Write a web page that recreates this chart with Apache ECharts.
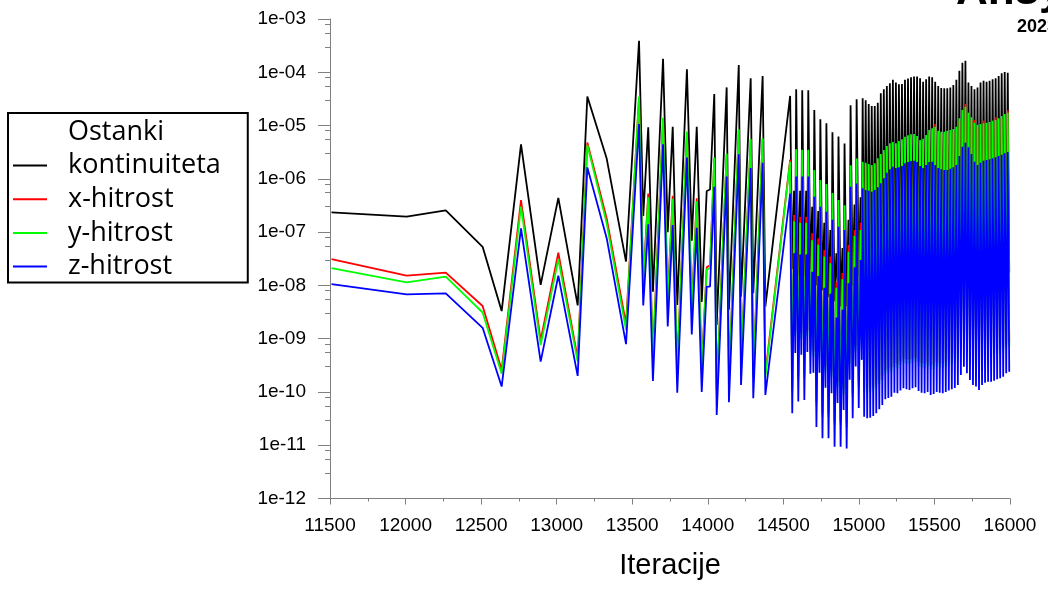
<!DOCTYPE html>
<html>
<head>
<meta charset="utf-8">
<script src="https://cdn.jsdelivr.net/npm/echarts@6/dist/echarts.min.js"></script>
<style>
html,body{margin:0;padding:0;background:#ffffff;}
#chart{width:1048px;height:590px;}
</style>
</head>
<body>
<div id="chart"></div>
<script>
// ---------- names, colours, axis labels ----------
const seriesNames = ['Ostanki kontinuiteta', 'x-hitrost', 'y-hitrost', 'z-hitrost'];
const seriesColors = ['#000000', '#ff0000', '#00ff00', '#0000ff'];
const legendLabels = ['kontinuiteta', 'x-hitrost', 'y-hitrost', 'z-hitrost'];
const legendTitle = 'Ostanki';
const xAxisTitle = 'Iteracije';
const xMin = 11500, xMax = 16000, xStep = 500;
const yMin = 1e-12, yMax = 1e-3;
const yMinorMantissas = [8, 5.5, 3];

// ---------- data: sparse part (11500 - 14400) ----------
const sparseIter = [11510, 12007, 12266, 12510, 12636, 12764, 12894, 13011, 13139, 13203, 13331, 13459,
  13545, 13573, 13606, 13637, 13704, 13735, 13768, 13798, 13862, 13894, 13927, 13960,
  13993, 14015, 14043, 14059, 14125, 14140, 14205, 14220, 14284, 14301, 14363, 14381];
const sparseK = [2.35e-7, 1.95e-7, 2.56e-7, 5.3e-8, 3.3e-9, 4.45e-6, 1.02e-8, 4.4e-7, 4.2e-9, 3.5e-5, 2.4e-6, 2.8e-8,
  3.9e-4, 2.0e-7, 9.3e-6, 7.6e-9, 1.8e-4, 1.0e-7, 9.5e-6, 4.3e-9, 1.14e-4, 6.9e-8, 9.5e-6, 4.9e-9,
  5.9e-7, 6.3e-7, 3.9e-5, 1.8e-9, 5.2e-5, 3.5e-9, 1.37e-4, 6.1e-9, 7.7e-5, 7.1e-9, 8.5e-5, 4e-9];
const sparseR = [3.1e-8, 1.52e-8, 1.73e-8, 4.1e-9, 2.6e-10, 4.0e-7, 9.4e-10, 4.1e-8, 4.3e-10, 4.8e-6, 1.8e-7, 1.9e-9,
  3.3e-5, 1.2e-8, 5.3e-7, 5e-10, 1.37e-5, 6e-9, 4.8e-7, 3e-10, 7.5e-6, 4e-9, 4.3e-7, 3e-10,
  2.2e-8, 2.4e-8, 2.4e-6, 1.1e-10, 2.9e-6, 1.8e-10, 8.2e-6, 3.5e-10, 5.4e-6, 2.2e-10, 5.6e-6, 2.2e-10];
const sparseG = [2.1e-8, 1.14e-8, 1.46e-8, 3.1e-9, 2.2e-10, 3.0e-7, 7.6e-10, 3.1e-8, 3.7e-10, 4.3e-6, 1.46e-7, 1.46e-9,
  3.5e-5, 1.0e-8, 4.5e-7, 4e-10, 1.4e-5, 5e-9, 4.2e-7, 2.5e-10, 7.7e-6, 3.3e-9, 3.8e-7, 2.5e-10,
  2.0e-8, 2.1e-8, 2.5e-6, 9e-11, 3.0e-6, 1.5e-10, 8.5e-6, 3e-10, 5.6e-6, 1.9e-10, 5.8e-6, 1.9e-10];
const sparseB = [1.06e-8, 6.8e-9, 7.1e-9, 1.6e-9, 1.26e-10, 1.18e-7, 3.7e-10, 1.52e-8, 2.0e-10, 1.64e-6, 7.7e-8, 7.9e-10,
  1.07e-5, 4.2e-9, 1.4e-7, 1.6e-10, 4.45e-6, 1.7e-9, 1.36e-7, 9.7e-11, 2.5e-6, 1.2e-9, 1.2e-7, 1.0e-10,
  9.5e-9, 9.5e-9, 7.1e-7, 3.7e-11, 1.1e-6, 6.4e-11, 2.9e-6, 1.35e-10, 1.6e-6, 7.6e-11, 2.0e-6, 8.8e-11];

// ---------- data: first dense part (big peak, deep trough, small peak, shallow trough) ----------
const seg1Iter = [14545, 14559, 14571, 14579, 14585, 14599, 14611, 14619, 14625, 14639, 14651, 14659,
  14665, 14679, 14691, 14699, 14705, 14719, 14731, 14739, 14745, 14759, 14771, 14779,
  14785, 14799, 14811, 14819, 14825, 14839, 14851, 14859, 14865, 14879, 14891, 14899,
  14905, 14919, 14931, 14939, 14945, 14959, 14971, 14979, 14985, 14999, 15011, 15019];
const seg1K = [3.6e-5, 2e-8, 6e-7, 5e-8, 4.8e-5, 1.5e-8, 6e-7, 5e-8, 4.6e-5, 1.5e-8, 6e-7, 5e-8,
  4.6e-5, 2e-8, 3e-7, 3e-8, 1.96e-5, 1e-8, 2.5e-7, 2.5e-8, 1.31e-5, 8e-9, 1.5e-7, 2e-8,
  1.1e-5, 6e-9, 1.1e-7, 1.5e-8, 7.5e-6, 5e-9, 4e-8, 1.2e-8, 6.2e-6, 4e-9, 5e-8, 1e-8,
  4.6e-6, 4e-9, 1.7e-7, 2e-8, 2.4e-5, 1e-8, 3.3e-7, 3e-8, 3.1e-5, 1.5e-8, 4.5e-7, 4e-8];
const seg1R = [2.3e-6, 1.2e-10, 2.1e-7, 1.35e-9, 3.6e-6, 2e-10, 1.95e-7, 1.25e-9, 3.4e-6, 2.1e-10, 1.95e-7, 1.4e-9,
  3.4e-6, 6.6e-10, 9.5e-8, 5.8e-10, 1.45e-6, 6.6e-11, 7.7e-8, 5.8e-10, 9.3e-7, 4e-11, 4.6e-8, 3e-10,
  7.8e-7, 4e-11, 3.5e-8, 2.4e-10, 5.3e-7, 2.8e-11, 1.17e-8, 1.55e-10, 3.9e-7, 2.8e-11, 1.7e-8, 1.15e-10,
  3.1e-7, 2.6e-11, 5.7e-8, 4.2e-10, 1.75e-6, 9.6e-11, 1.1e-7, 7.5e-10, 2.3e-6, 1.5e-10, 1.5e-7, 1e-9];
const seg1G = [2.1e-6, 1e-10, 1.6e-7, 1.1e-9, 3.6e-6, 1.65e-10, 1.5e-7, 1e-9, 3.5e-6, 1.8e-10, 1.5e-7, 1.1e-9,
  3.5e-6, 5.5e-10, 7e-8, 4.6e-10, 1.47e-6, 5.5e-11, 5.8e-8, 4.6e-10, 9.5e-7, 3.4e-11, 3.5e-8, 2.4e-10,
  8e-7, 3.4e-11, 2.6e-8, 1.9e-10, 5.4e-7, 2.4e-11, 9e-9, 1.25e-10, 4e-7, 2.4e-11, 1.3e-8, 9e-11,
  3.2e-7, 2.2e-11, 4.3e-8, 3.4e-10, 1.8e-6, 8e-11, 8.5e-8, 6e-10, 2.4e-6, 1.25e-10, 1.1e-7, 8e-10];
const seg1B = [5.3e-7, 4e-11, 4e-8, 5.4e-10, 1.1e-6, 6.6e-11, 3.8e-8, 5e-10, 1.1e-6, 7.1e-11, 3.8e-8, 5.6e-10,
  1.1e-6, 2.2e-10, 1.8e-8, 2.3e-10, 4.6e-7, 2.2e-11, 1.5e-8, 2.3e-10, 3e-7, 1.35e-11, 9e-9, 1.2e-10,
  2.4e-7, 1.35e-11, 7e-9, 9.5e-11, 1.7e-7, 9.4e-12, 2.5e-9, 6.2e-11, 1.26e-7, 9.4e-12, 3.5e-9, 4.6e-11,
  1.1e-7, 8.7e-12, 1.1e-8, 1.7e-10, 7.1e-7, 3.2e-11, 2.2e-8, 3e-10, 8.2e-7, 5e-11, 3e-8, 4e-10];

// ---------- data: second dense part (peak, trough every 20 iterations) ----------
const seg2Iter = [15025,15035,15045,15055,15065,15075,15085,15095,15105,15115,15125,15135,15145,15155,15165,15175,
  15185,15195,15205,15215,15225,15235,15245,15255,15265,15275,15285,15295,15305,15315,15325,15335,
  15345,15355,15365,15375,15385,15395,15405,15415,15425,15435,15445,15455,15465,15475,15485,15495,
  15505,15515,15525,15535,15545,15555,15565,15575,15585,15595,15605,15615,15625,15635,15645,15655,
  15665,15675,15685,15695,15705,15715,15725,15735,15745,15755,15765,15775,15785,15795,15805,15815,
  15825,15835,15845,15855,15865,15875,15885,15895,15905,15915,15925,15935,15945,15955,15965,15975,
  15985,15995];
const seg2K = [
  3.25e-5,8e-9, 3.0e-5,6e-9, 2.54e-5,6e-9, 2.33e-5,7e-9, 2.33e-5,7.5e-9, 2.69e-5,8e-9, 4.03e-5,9e-9, 4.8e-5,1e-8, 5.53e-5,1e-8, 6.2e-5,1.1e-8,
  7.2e-5,1.1e-8, 6.4e-5,1e-8, 5.95e-5,1.05e-8, 6.0e-5,1.1e-8, 7.2e-5,1.25e-8, 7.6e-5,1.25e-8, 8.05e-5,1.25e-8, 8.3e-5,1.3e-8, 8.3e-5,1.25e-8, 7.7e-5,1.1e-8,
  6.65e-5,1.1e-8, 7.4e-5,1.2e-8, 8.3e-5,1.25e-8, 8.05e-5,1.25e-8, 6.65e-5,1.15e-8, 5.53e-5,1.05e-8, 5.07e-5,1e-8, 5.0e-5,1e-8, 5.0e-5,1e-8, 5.2e-5,1.05e-8,
  5.77e-5,1.1e-8, 7.2e-5,1.25e-8, 1.07e-4,1.5e-8, 1.51e-4,1.75e-8, 1.65e-4,1.9e-8, 6.4e-5,1.25e-8, 5.53e-5,1.1e-8, 4.8e-5,1.05e-8, 5.2e-5,1.1e-8, 6.4e-5,1.25e-8,
  6.95e-5,1.3e-8, 6.65e-5,1.3e-8, 6.95e-5,1.35e-8, 7.4e-5,1.4e-8, 7.7e-5,1.45e-8, 8.5e-5,1.5e-8, 9.6e-5,1.6e-8, 1.01e-4,1.75e-8, 9.8e-5,1.75e-8];
const seg2R = [
  1.9e-6,1.2e-10, 1.8e-6,1.15e-10, 1.7e-6,1.2e-10, 1.65e-6,1.25e-10, 1.75e-6,1.45e-10, 2.2e-6,1.7e-10, 2.6e-6,2e-10, 3.1e-6,2.6e-10, 3.7e-6,2.8e-10, 4.2e-6,2.9e-10,
  4.4e-6,3.5e-10, 4.2e-6,3.4e-10, 4.6e-6,3.8e-10, 5.0e-6,4.2e-10, 5.6e-6,4.1e-10, 5.9e-6,4e-10, 6.2e-6,4.2e-10, 6.2e-6,4.4e-10, 5.7e-6,3.7e-10, 4.8e-6,3.5e-10,
  5.1e-6,3.4e-10, 6.0e-6,3.6e-10, 7.4e-6,3.1e-10, 8.0e-6,3.2e-10, 1.07e-5,3.6e-10, 7.2e-6,3.5e-10, 6.9e-6,3.4e-10, 6.9e-6,3.6e-10, 7.2e-6,3.8e-10, 7.4e-6,4.1e-10,
  7.7e-6,4.3e-10, 8.6e-6,4.8e-10, 1.23e-5,7.4e-10, 1.76e-5,1.08e-9, 2.55e-5,8e-10, 1.57e-5,6e-10, 1.29e-5,4.8e-10, 1.27e-5,4.6e-10, 9.3e-6,4e-10, 9.6e-6,4.8e-10,
  1.24e-5,5.4e-10, 1.02e-5,5.6e-10, 1.05e-5,5.6e-10, 1.1e-5,5.9e-10, 1.43e-5,6.2e-10, 1.23e-5,6.5e-10, 1.36e-5,7e-10, 1.49e-5,8e-10, 1.96e-5,8.6e-10];
const seg2G = [
  2.10e-6,1e-10, 2.01e-6,9.5e-11, 1.90e-6,1e-10, 1.82e-6,1.05e-10, 1.96e-6,1.2e-10, 2.43e-6,1.4e-10, 2.92e-6,1.7e-10, 3.48e-6,2.2e-10, 4.13e-6,2.3e-10, 4.65e-6,2.4e-10,
  4.91e-6,2.9e-10, 4.65e-6,2.8e-10, 5.13e-6,3.2e-10, 5.52e-6,3.5e-10, 6.18e-6,3.4e-10, 6.56e-6,3.3e-10, 6.86e-6,3.5e-10, 6.95e-6,3.7e-10, 6.37e-6,3.1e-10, 5.36e-6,2.9e-10,
  5.66e-6,2.8e-10, 6.65e-6,3e-10, 8.26e-6,2.6e-10, 8.89e-6,2.7e-10, 9.52e-6,3e-10, 8.01e-6,2.9e-10, 7.67e-6,2.8e-10, 7.67e-6,3e-10, 8.01e-6,3.2e-10, 8.26e-6,3.4e-10,
  8.61e-6,3.6e-10, 9.52e-6,4e-10, 1.37e-5,6.2e-10, 1.96e-5,9e-10, 2.26e-5,6.7e-10, 1.74e-5,5e-10, 1.43e-5,4e-10, 1.13e-5,3.8e-10, 1.03e-5,3.3e-10, 1.07e-5,4e-10,
  1.10e-5,4.5e-10, 1.13e-5,4.7e-10, 1.17e-5,4.7e-10, 1.23e-5,4.9e-10, 1.27e-5,5.2e-10, 1.37e-5,5.4e-10, 1.51e-5,5.8e-10, 1.65e-5,6.7e-10, 1.74e-5,7.2e-10];
const seg2B = [
  6.64e-7,3.43e-11, 6.18e-7,3.21e-11, 5.99e-7,3.29e-11, 5.74e-7,3.54e-11, 6.18e-7,3.98e-11, 6.93e-7,4.73e-11, 8.24e-7,5.69e-11, 1.02e-6,7.28e-11, 1.30e-6,7.71e-11, 1.51e-6,8.15e-11,
  1.69e-6,9.68e-11, 1.60e-6,9.44e-11, 1.65e-6,1.06e-10, 1.74e-6,1.17e-10, 1.96e-6,1.12e-10, 2.07e-6,1.09e-10, 2.16e-6,1.17e-10, 2.19e-6,1.22e-10, 2.07e-6,1.04e-10, 1.74e-6,9.68e-11,
  1.60e-6,9.44e-11, 1.82e-6,9.98e-11, 2.07e-6,8.77e-11, 2.10e-6,9.16e-11, 1.82e-6,9.98e-11, 1.60e-6,9.68e-11, 1.51e-6,9.44e-11, 1.47e-6,9.98e-11, 1.47e-6,1.06e-10, 1.55e-6,1.12e-10,
  1.65e-6,1.19e-10, 1.82e-6,1.35e-10, 2.69e-6,2.08e-10, 4.01e-6,2.98e-10, 4.77e-6,2.24e-10, 3.91e-6,1.67e-10, 2.92e-6,1.35e-10, 2.10e-6,1.26e-10, 1.82e-6,1.09e-10, 2.01e-6,1.35e-10,
  2.19e-6,1.49e-10, 2.26e-6,1.56e-10, 2.33e-6,1.56e-10, 2.43e-6,1.63e-10, 2.54e-6,1.73e-10, 2.69e-6,1.80e-10, 2.84e-6,1.93e-10, 3.01e-6,2.24e-10, 3.19e-6,2.40e-10];

// ---------- assemble ----------
const allIter = sparseIter.concat(seg1Iter, seg2Iter);
const allValues = [
  sparseK.concat(seg1K, seg2K),
  sparseR.concat(seg1R, seg2R),
  sparseG.concat(seg1G, seg2G),
  sparseB.concat(seg1B, seg2B)
];

const yMinorTicks = [];
for (let e = -4; e >= -12; e--) {
  yMinorMantissas.forEach(m => yMinorTicks.push(Number((m * Math.pow(10, e)).toPrecision(3))));
}

const axisGray = '#808080';
const fontAxis = 'Liberation Sans';

const chart = echarts.init(document.getElementById('chart'), null, {renderer: 'canvas'});

const series = seriesNames.map((name, i) => ({
  name: name,
  type: 'line',
  xAxisIndex: 0,
  yAxisIndex: 0,
  symbol: 'none',
  showSymbol: false,
  smooth: false,
  sampling: null,
  silent: true,
  z: 2 + i,
  color: seriesColors[i],
  lineStyle: {color: seriesColors[i], width: 1.8},
  data: allIter.map((it, k) => [it, allValues[i][k]])
}));

const option = {
  animation: false,
  backgroundColor: '#ffffff',
  grid: {left: 330, right: 38, top: 19, bottom: 91.5, containLabel: false, outerBoundsMode: 'none'},
  legend: {
    data: seriesNames,
    orient: 'vertical',
    left: 8,
    top: 113,
    padding: [39, 27, 2.5, 5],
    itemGap: 6.7,
    itemWidth: 34,
    itemHeight: 2,
    icon: 'rect',
    borderColor: '#000000',
    borderWidth: 2,
    borderRadius: 0,
    backgroundColor: '#ffffff',
    selectedMode: false,
    formatter: name => '{t|' + legendLabels[seriesNames.indexOf(name)] + '}',
    textStyle: {
      rich: {
        t: {fontFamily: 'Open Sans', fontSize: 27, lineHeight: 34, color: '#000000', padding: [0, 0, 0, 16]}
      }
    }
  },
  xAxis: {
    type: 'value',
    min: xMin,
    max: xMax,
    interval: xStep,
    name: xAxisTitle,
    nameLocation: 'middle',
    nameGap: 53,
    nameTextStyle: {fontFamily: fontAxis, fontSize: 29, color: '#000000'},
    axisLine: {show: true, onZero: false, lineStyle: {color: axisGray, width: 1}},
    axisTick: {show: true, length: 6, lineStyle: {color: axisGray}},
    minorTick: {show: true, splitNumber: 2, length: 3, lineStyle: {color: axisGray}},
    axisLabel: {fontFamily: fontAxis, fontSize: 19, color: '#000000', margin: 18, formatter: v => String(v)},
    splitLine: {show: false},
    minorSplitLine: {show: false}
  },
  yAxis: [{
    type: 'log',
    logBase: 10,
    min: yMin,
    max: yMax,
    splitNumber: 9,
    position: 'left',
    axisLine: {show: true, onZero: false, lineStyle: {color: axisGray, width: 1}},
    axisTick: {show: true, length: 12, lineStyle: {color: axisGray}},
    axisLabel: {
      fontFamily: fontAxis, fontSize: 19, color: '#000000', margin: 24,
      formatter: v => {
        const e = Math.round(-Math.log10(v));
        return '1e-' + (e < 10 ? '0' + e : '' + e);
      }
    },
    splitLine: {show: false}
  }, {
    type: 'log',
    logBase: 10,
    min: yMin,
    max: yMax,
    position: 'left',
    axisLine: {show: false},
    axisLabel: {show: false},
    axisTick: {show: true, length: 5, customValues: yMinorTicks, lineStyle: {color: axisGray}},
    splitLine: {show: false}
  }],
  graphic: [
    {type: 'text', z: 100, style: {text: legendTitle, x: 68, y: 118.5, fontFamily: 'Open Sans', fontSize: 27, fill: '#000000', verticalAlign: 'top'}},
    {type: 'text', z: 100, style: {text: 'Ansys', x: 956, y: -29.9, fontFamily: 'Liberation Sans', fontWeight: 'bold', fontSize: 44, fill: '#000000', verticalAlign: 'top'}},
    {type: 'text', z: 100, style: {text: '2023 R1', x: 1017, y: 18.1, fontFamily: 'Liberation Sans', fontWeight: 'bold', fontSize: 18, fill: '#000000', verticalAlign: 'top'}}
  ],
  series: series
};

chart.setOption(option);
</script>
</body>
</html>
